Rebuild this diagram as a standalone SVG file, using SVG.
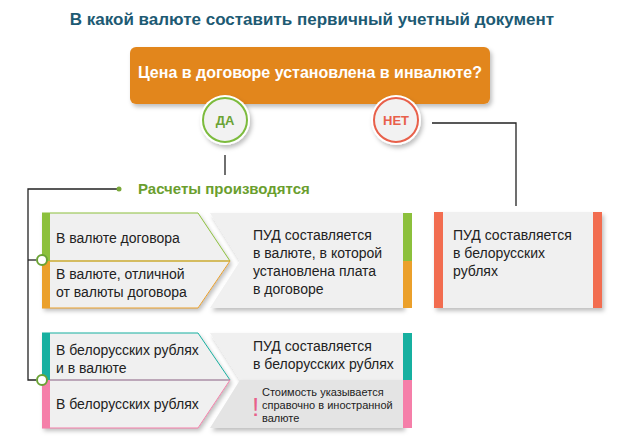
<svg xmlns="http://www.w3.org/2000/svg" width="630" height="448" viewBox="0 0 630 448">
<defs>
<style>
text{font-family:"Liberation Sans",Arial,sans-serif;}
.t{font-size:14px;fill:#222;}
.s{font-size:11px;fill:#222;}
.ln{stroke:#222;stroke-width:1.3;fill:none;}
.box{fill:#f0f0f0;}
</style>
<filter id="sh" x="-10%" y="-10%" width="130%" height="140%"><feDropShadow dx="2" dy="3" stdDeviation="2" flood-color="#000" flood-opacity="0.25"/></filter>
</defs>
<rect width="630" height="448" fill="#fff"/>
<text x="312" y="25" text-anchor="middle" style="font-size:17px;font-weight:bold;fill:#1d5a73">В какой валюте составить первичный учетный документ</text>

<g id="connectors">
<line class="ln" x1="225" y1="155" x2="225" y2="175"/>
<polyline class="ln" points="432,123 516,123 516,206"/>
<polyline class="ln" points="119,189 28,189 28,380 36,380"/>
<line class="ln" x1="28" y1="260" x2="36" y2="260"/>
<circle cx="119" cy="189" r="2.5" fill="#7aa83a"/>
</g>

<g id="question">
<rect x="130" y="47" width="360" height="57" rx="6" fill="#e2861e" filter="url(#sh)"/>
<text x="310" y="78" text-anchor="middle" style="font-size:16px;font-weight:bold;fill:#fff">Цена в договоре установлена в инвалюте?</text>
</g>
<g id="da">
<circle cx="225" cy="120" r="25" fill="#fff" filter="url(#sh)"/>
<circle cx="225" cy="120" r="22" fill="#f2f2f2" stroke="#7cbb3d" stroke-width="2"/>
<text x="225" y="125" text-anchor="middle" style="font-size:13px;font-weight:bold;fill:#6aa334">ДА</text>
</g>
<g id="net">
<circle cx="396" cy="120" r="25" fill="#fff" filter="url(#sh)"/>
<circle cx="396" cy="120" r="22" fill="#f2f2f2" stroke="#e8604a" stroke-width="2"/>
<text x="396" y="125" text-anchor="middle" style="font-size:13px;font-weight:bold;fill:#e8604a">НЕТ</text>
</g>
<g id="raschety">
<text x="138" y="194" style="font-size:15px;font-weight:bold;fill:#6a9e2e">Расчеты производятся</text>
</g>

<g id="block1">
<path class="box" d="M210,213 L403,213 L403,308 L210,308 L240,261 Z" filter="url(#sh)"/>
<rect x="403" y="213" width="9" height="48" fill="#8cc03c"/>
<rect x="403" y="261" width="9" height="47" fill="#eba02b"/>
<text class="t"><tspan x="253" y="240">ПУД составляется</tspan><tspan x="253" y="258">в валюте, в которой</tspan><tspan x="253" y="276">установлена плата</tspan><tspan x="253" y="294">в договоре</tspan></text>
<path class="box" d="M42,213 L198,213 L230,261 L198,308 L42,308 Z" filter="url(#sh)"/>
<path d="M42,213 L198,213 L230,261 L42,261" fill="none" stroke="#8cc03c" stroke-width="1"/>
<path d="M42,261 L230,261 L198,308 L42,308" fill="none" stroke="#eba02b" stroke-width="1"/>
<rect x="42" y="213" width="8" height="48" fill="#8cc03c"/>
<rect x="42" y="261" width="8" height="47" fill="#eba02b"/>
<text class="t" x="56" y="243">В валюте договора</text>
<text class="t"><tspan x="56" y="279">В валюте, отличной</tspan><tspan x="56" y="297">от валюты договора</tspan></text>
<circle cx="42" cy="260" r="5" fill="#fff" stroke="#6aa334" stroke-width="2"/>
</g>

<g id="block2">
<path class="box" d="M210,333 L403,333 L403,380 L240,380 Z" filter="url(#sh)"/>
<path d="M240,380 L403,380 L403,428 L210,428 Z" fill="#e4e4e4" filter="url(#sh)"/>
<rect x="403" y="333" width="9" height="47" fill="#17b0a0"/>
<rect x="403" y="380" width="9" height="48" fill="#f57fa9"/>
<text class="t"><tspan x="253" y="351">ПУД составляется</tspan><tspan x="253" y="369">в белорусских рублях</tspan></text>
<text x="252" y="416" style="font-size:26px;fill:#e8608a">!</text>
<text class="s"><tspan x="262" y="396">Стоимость указывается</tspan><tspan x="262" y="409">справочно в иностранной</tspan><tspan x="262" y="422">валюте</tspan></text>
<path class="box" d="M42,333 L198,333 L230,380 L198,428 L42,428 Z" filter="url(#sh)"/>
<path d="M42,333 L198,333 L230,380 L42,380" fill="none" stroke="#17b0a0" stroke-width="1"/>
<path d="M42,380 L230,380 L198,428 L42,428" fill="none" stroke="#f57fa9" stroke-width="1"/>
<rect x="42" y="333" width="8" height="47" fill="#17b0a0"/>
<rect x="42" y="380" width="8" height="48" fill="#f57fa9"/>
<text class="t"><tspan x="56" y="355">В белорусских рублях</tspan><tspan x="56" y="373">и в валюте</tspan></text>
<text class="t" x="56" y="409">В белорусских рублях</text>
<circle cx="42" cy="380" r="5" fill="#fff" stroke="#6aa334" stroke-width="2"/>
</g>

<g id="block3">
<rect x="434" y="212" width="168" height="96" class="box" filter="url(#sh)"/>
<rect x="434" y="212" width="9" height="96" fill="#f26d50"/>
<rect x="593" y="212" width="9" height="96" fill="#f26d50"/>
<text class="t"><tspan x="453" y="240">ПУД составляется</tspan><tspan x="453" y="258">в белорусских</tspan><tspan x="453" y="276">рублях</tspan></text>
</g>
</svg>
